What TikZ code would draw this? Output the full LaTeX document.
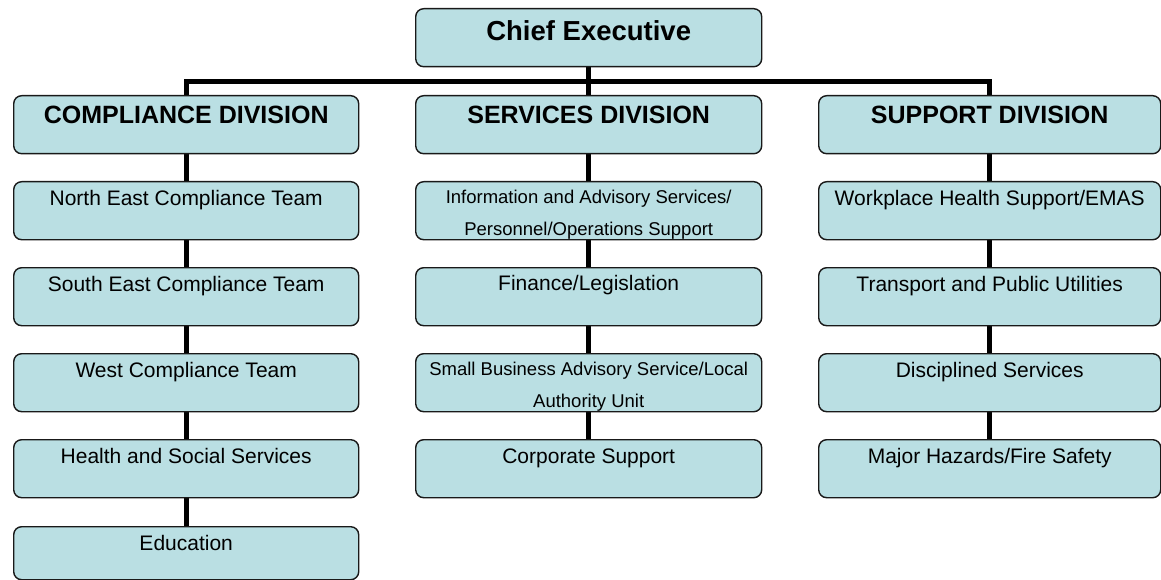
\documentclass[tikz,border=0pt]{standalone}
\usepackage{fontspec}
\setmainfont{Liberation Sans}
\usetikzlibrary{backgrounds,calc}
\definecolor{boxfill}{RGB}{186,223,227}
\definecolor{boxline}{RGB}{25,25,25}
\newlength{\bxw}
\newcommand{\bxt}[5][58]{\setlength{\bxw}{#2pt}\parbox[c][#1pt][t]{\bxw}{\centering\fontsize{#4}{32}\selectfont\rule{0pt}{#3pt}#5}}
\tikzset{
  orgbox/.style={draw=boxline, line width=1.4pt, rounded corners=8pt, fill=boxfill, inner sep=0pt, anchor=north west},
  link/.style={line width=5pt, black, line join=miter}
}
\begin{document}
\begin{tikzpicture}[x=1pt, y=-1pt]
\useasboundingbox (0,0) rectangle (1161,580);
\clip (0,0) rectangle (1161,580);
% top
\node[orgbox] (ce) at (415,8) {\bxt{346}{31.5}{27.5}{\bfseries Chief Executive}};
% divisions
\node[orgbox] (cd) at (13,95) {\bxt{345}{28}{25}{\bfseries COMPLIANCE DIVISION}};
\node[orgbox] (sd) at (415,95) {\bxt{346}{28}{25}{\bfseries SERVICES DIVISION}};
\node[orgbox] (pd) at (818,95) {\bxt{342}{28}{25}{\bfseries SUPPORT DIVISION}};
% compliance column
\node[orgbox] (c1) at (13,181) {\bxt{345}{24}{21}{North East Compliance Team}};
\node[orgbox] (c2) at (13,267) {\bxt{345}{24}{21}{South East Compliance Team}};
\node[orgbox] (c3) at (13,353) {\bxt{345}{24}{21}{West Compliance Team}};
\node[orgbox] (c4) at (13,439) {\bxt{345}{24}{21}{Health and Social Services}};
\node[orgbox] (c5) at (13,526) {\bxt[53]{345}{24}{21}{Education}};
% services column
\node[orgbox] (s1) at (415,181) {\bxt{346}{22}{18.5}{Information and Advisory Services/\\Personnel/Operations Support}};
\node[orgbox] (s2) at (415,267) {\bxt{346}{23}{21}{Finance/Legislation}};
\node[orgbox] (s3) at (415,353) {\bxt{346}{22}{18.5}{Small Business Advisory Service/Local\\Authority Unit}};
\node[orgbox] (s4) at (415,439) {\bxt{346}{24}{21}{Corporate Support}};
% support column
\node[orgbox] (p1) at (818,181) {\bxt{342}{24}{21}{Workplace Health Support/EMAS}};
\node[orgbox] (p2) at (818,267) {\bxt{342}{24}{21}{Transport and Public Utilities}};
\node[orgbox] (p3) at (818,353) {\bxt{342}{24}{21}{Disciplined Services}};
\node[orgbox] (p4) at (818,439) {\bxt{342}{24}{21}{Major Hazards/Fire Safety}};
\begin{scope}[on background layer]
  \coordinate (bar) at ($(ce.south)+(0,14.5)$);
  \draw[link] (ce.south) -- (sd.north);
  \draw[link] (cd.north) |- (bar) -| (pd.north);
  \draw[link] (cd.south) -- (c1.north);
  \draw[link] (c1.south) -- (c2.north);
  \draw[link] (c2.south) -- (c3.north);
  \draw[link] (c3.south) -- (c4.north);
  \draw[link] (c4.south) -- (c5.north);
  \draw[link] (sd.south) -- (s1.north);
  \draw[link] (s1.south) -- (s2.north);
  \draw[link] (s2.south) -- (s3.north);
  \draw[link] (s3.south) -- (s4.north);
  \draw[link] (pd.south) -- (p1.north);
  \draw[link] (p1.south) -- (p2.north);
  \draw[link] (p2.south) -- (p3.north);
  \draw[link] (p3.south) -- (p4.north);
\end{scope}
\end{tikzpicture}
\end{document}
